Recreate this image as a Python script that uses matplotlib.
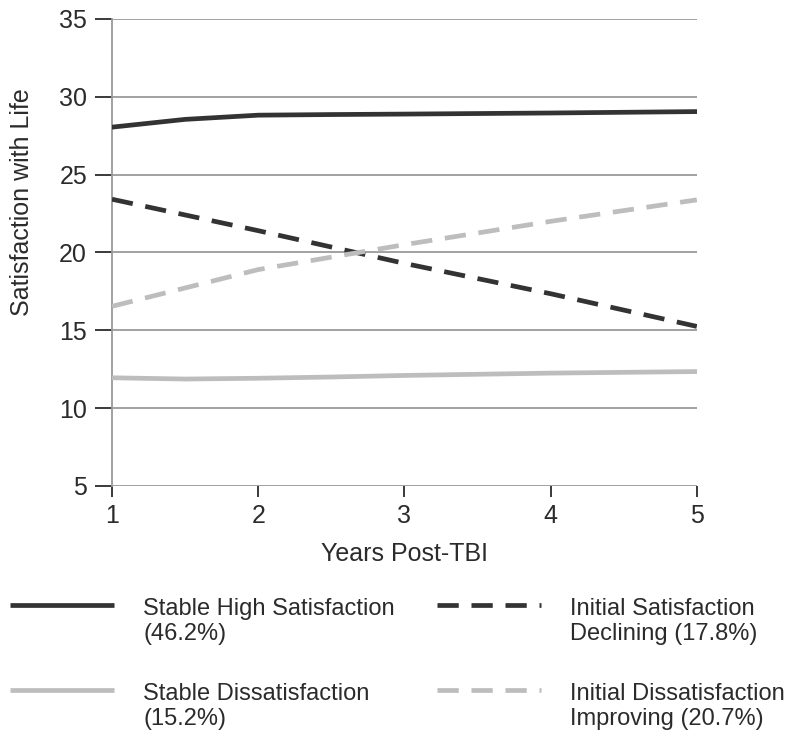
import numpy as np
import matplotlib
matplotlib.use("Agg")
from matplotlib import pyplot as plt
from matplotlib.lines import Line2D

plt.rcParams['font.family'] = ['Liberation Sans', 'DejaVu Sans']

# ---------------------------------------------------------------- data
years_fine = [1, 1.5, 2, 2.5, 3, 4, 5]
years = [1, 2, 3, 4, 5]

stable_high = [28.05, 28.55, 28.82, 28.86, 28.89, 28.96, 29.05]
stable_dis = [11.95, 11.87, 11.92, 12.0, 12.1, 12.25, 12.35]
init_sat_decl = [23.42, 21.4, 19.3, 17.35, 15.25]
init_dis_impr = [16.54, 18.9, 20.5, 22.0, 23.38]

labels = ['Stable High Satisfaction\n(46.2%)',
          'Initial Satisfaction\nDeclining (17.8%)',
          'Stable Dissatisfaction\n(15.2%)',
          'Initial Dissatisfaction\nImproving (20.7%)']

dark = '#333333'
light = '#bdbdbd'
grid = '#9a9a9a'
txt = '#2b2b2b'

dash = (0, (4.5, 2.7))
styles = [dict(color=dark, lw=3.4, ls='-'),
          dict(color=dark, lw=3.4, ls=dash),
          dict(color=light, lw=3.4, ls='-'),
          dict(color=light, lw=3.4, ls=dash)]

# ---------------------------------------------------------------- figure
fig = plt.figure(figsize=(8, 7.38), dpi=100)
ax = fig.add_axes([0.14, 0.3415, 0.731, 0.6328])

for yv in range(5, 40, 5):
    ax.axhline(yv, color=grid, lw=1.3, zorder=1)

ax.plot(years_fine, stable_high, zorder=3, **styles[0])
ax.plot(years, init_sat_decl, zorder=3, **styles[1])
ax.plot(years_fine, stable_dis, zorder=3, **styles[2])
ax.plot(years, init_dis_impr, zorder=3, **styles[3])

ax.set_xlim(1, 5)
ax.set_ylim(5, 35)
ax.set_xticks(years)
ax.set_yticks(range(5, 40, 5))

for s in ['top', 'right', 'bottom']:
    ax.spines[s].set_visible(False)
ax.spines['left'].set_color(grid)
ax.spines['left'].set_linewidth(1.3)

ax.tick_params(axis='y', length=12, width=1.3, color=txt, labelsize=18,
               labelcolor=txt, pad=6)
ax.tick_params(axis='x', length=8, width=1.3, color=txt, labelsize=18,
               labelcolor=txt, pad=5)
ax.set_xlabel('Years Post-TBI', fontsize=18, color=txt, labelpad=10)
ax.set_ylabel('Satisfaction with Life', fontsize=18, color=txt)
ax.yaxis.set_label_coords(-0.133, 0.608)

# ---------------------------------------------------------------- legend
col_x = [0.012, 0.546]
row_y = [1 - 605 / 738, 1 - 690 / 738]
for i, lab in enumerate(labels):
    cx = col_x[i % 2]
    ry = row_y[i // 2]
    fig.add_artist(Line2D([cx, cx + 0.13], [ry, ry], transform=fig.transFigure,
                          solid_capstyle='butt', dash_capstyle='butt',
                          **styles[i]))
    fig.text(cx + 0.167, ry + 0.009, lab, fontsize=17, color=txt,
             va='top', ha='left', linespacing=1.15,
             transform=fig.transFigure)

fig.savefig('out.png', dpi=100)
